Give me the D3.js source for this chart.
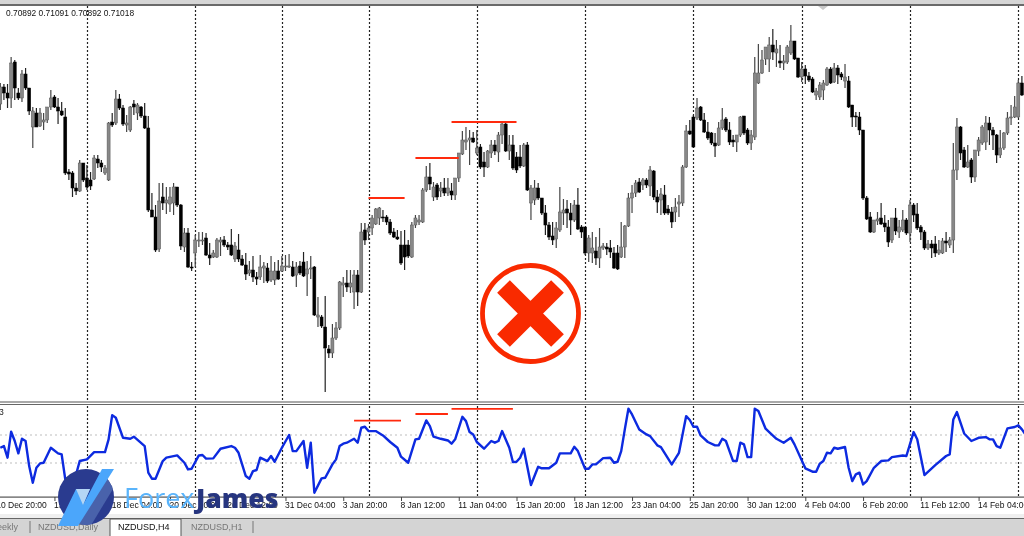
<!DOCTYPE html>
<html><head><meta charset="utf-8">
<style>html,body{margin:0;padding:0;background:#fff;overflow:hidden}svg{display:block}</style>
<script src="https://d3js.org/d3.v7.min.js"></script></head>
<body><div id="chart"></div>
<script>
// Candles, in pips above a base price, oldest bar first.
const opens=[296,313,307,302,338,307,302,326,312,273,
287,274,278,280,293,303,293,289,283,228,
227,212,209,237,222,220,221,241,237,227,
220,278,277,301,292,275,270,296,287,293,
284,272,190,183,151,203,197,196,197,213,
195,153,167,133,147,159,159,162,145,143,
143,158,160,155,155,141,150,141,135,127,
130,123,123,132,132,120,120,129,129,133,
133,133,125,134,138,126,131,133,83,83,
73,51,47,62,72,115,117,113,108,125,
108,170,168,172,176,182,183,183,178,168,
163,155,155,155,143,175,178,178,210,223,
203,215,209,212,207,209,205,222,246,258,
260,262,247,253,238,233,247,255,248,265,
276,249,255,243,243,234,255,197,200,212,
202,187,175,164,161,170,187,191,187,180,
195,173,173,147,147,149,142,152,153,152,
147,147,143,153,174,202,207,218,215,220,
214,229,203,200,205,191,188,188,196,197,
233,269,283,282,293,280,268,267,257,255,
272,281,270,260,258,265,284,270,257,263,
317,327,341,341,355,347,339,337,338,347,
359,342,323,331,324,321,305,303,310,315,
331,318,332,326,319,319,295,284,283,270,
202,183,168,179,182,177,173,160,182,168,
170,180,167,195,186,173,168,152,156,156,
147,147,159,155,160,230,273,250,233,240,
223,249,257,258,277,270,265,245,252,267,
282,283,283,317];
const closes=[313,307,302,337,312,302,326,312,289,289,
273,287,280,293,302,293,289,285,227,226,
212,209,237,220,213,214,242,237,233,232,
277,275,301,292,276,277,293,293,295,284,
272,190,183,150,199,197,200,203,213,195,
154,167,133,132,160,160,160,145,142,147,
160,160,155,153,145,154,141,135,126,130,
123,121,133,134,119,129,129,121,134,134,
134,124,133,127,124,131,132,85,85,74,
52,47,62,72,118,117,113,117,125,108,
168,160,172,182,191,192,182,178,167,163,
161,137,143,144,175,182,180,210,223,216,
213,203,212,207,212,205,222,247,260,260,
262,258,252,233,233,249,255,249,265,276,
249,255,232,230,234,255,210,212,212,202,
187,175,163,160,172,188,190,187,180,195,
171,168,147,162,152,142,153,154,151,148,
132,131,153,174,202,207,217,208,220,215,
230,203,198,206,187,187,178,193,198,233,
269,266,253,292,280,268,262,257,254,272,
280,270,258,258,265,283,267,257,265,327,
327,340,353,355,348,351,337,339,353,359,
341,323,331,324,320,308,309,315,317,331,
317,332,325,323,323,293,283,283,270,202,
181,168,180,181,176,173,158,182,169,173,
180,167,195,185,172,168,152,156,152,147,
150,159,157,160,230,273,247,233,238,223,
250,260,273,277,270,265,245,252,267,282,
283,293,317,305];
const highs=[317,316,316,343,340,312,330,332,312,293,
292,292,287,293,310,305,302,298,292,231,
229,217,240,237,235,228,245,245,240,235,
278,287,310,306,295,285,294,300,297,294,
297,284,207,195,217,217,213,213,217,213,
196,172,172,138,165,168,168,167,157,150,
162,163,164,158,171,158,166,145,147,139,
144,128,145,138,137,144,138,140,144,145,
146,139,138,139,148,139,144,134,103,85,
104,55,76,78,119,123,130,130,130,130,
177,177,176,185,192,193,190,185,181,172,
170,169,170,160,178,185,185,212,234,237,
218,217,218,222,222,217,222,247,269,273,
270,268,270,256,248,250,260,260,268,277,
277,265,265,248,255,257,258,215,220,217,
202,195,178,178,178,213,201,200,197,200,
212,175,173,165,168,163,172,157,157,160,
153,155,178,175,207,215,220,222,222,222,
234,230,210,212,215,195,193,202,205,235,
275,280,285,302,294,287,278,268,267,278,
292,283,278,265,265,284,284,272,270,343,
356,350,353,363,371,360,355,345,355,375,
359,342,338,335,328,323,312,318,320,333,
333,337,335,328,336,324,295,288,288,270,
204,188,180,188,197,185,180,182,192,180,
190,182,200,197,197,175,170,160,160,164,
160,162,168,163,257,282,274,253,255,242,
250,263,275,284,283,273,266,270,268,288,
295,304,320,324];
const lows=[290,300,292,292,300,300,298,310,285,252,
273,273,270,277,290,292,276,284,225,220,
203,205,208,218,210,210,220,232,228,225,
219,273,275,290,274,268,268,285,280,282,
271,188,183,148,148,190,186,188,185,193,
150,148,132,129,133,153,155,144,135,142,
142,144,153,150,144,138,138,134,120,124,
118,115,120,117,117,118,115,120,128,129,
132,123,113,125,123,104,121,84,73,72,
8,42,42,60,70,103,108,107,91,94,
107,155,160,165,175,175,178,175,165,162,
160,135,130,142,142,172,175,177,208,210,
199,200,203,204,204,200,200,218,245,250,
235,257,245,231,223,232,242,245,238,256,
248,240,230,227,232,233,209,180,195,200,
185,165,160,155,152,168,175,172,165,178,
170,162,145,138,137,135,132,150,145,142,
131,130,142,142,173,187,203,207,210,212,
204,200,187,185,185,185,172,178,183,194,
232,265,252,280,279,267,260,255,243,254,
270,268,255,253,248,263,265,255,250,260,
316,326,335,328,340,333,332,330,336,345,
340,322,318,316,318,307,300,300,300,314,
316,317,316,320,312,292,273,273,265,200,
180,167,167,175,175,168,153,157,165,162,
168,165,158,178,170,160,150,150,142,143,
145,146,148,152,147,220,240,232,232,217,
218,244,255,250,255,250,237,242,250,265,
275,282,282,304];

// Oscillator turning points: bar index and value.
const oscBars=[0,1,2,3,4,5,6,7,8,9,10,11,12,14,16,17,18,21,22,24,26,29,30,31,32,34,36,37,40,41,42,43,45,46,49,51,52,53,55,56,57,59,61,64,65,66,68,69,70,71,72,74,75,76,78,80,81,82,84,85,86,87,89,90,92,93,94,
95,96,98,99,100,101,102,104,106,108,110,111,113,115,116,118,119,120,122,124,125,126,128,129,130,131,132,134,136,137,138,139,141,142,143,144,145,147,149,150,152,154,155,158,159,160,162,163,164,165,167,169,170,171,172,173,174,175,177,179,180,182,183,186,188,
190,191,192,193,194,196,198,199,200,201,203,204,205,206,207,208,209,210,212,213,215,217,219,220,223,225,226,227,228,229,230,231,232,234,235,236,237,238,239,240,242,244,246,247,250,251,253,254,256,259,262,263,264,265,267,269,271,273,274,275,276,277,279,281,282,283,284];
const oscValues=[9,21,-62,123,57,-31,73,57,-122,-241,-134,-103,-98,9,-31,-39,-217,-181,-86,-74,-22,-22,69,242,223,80,73,88,21,-169,-212,-212,-86,-62,-46,-98,-146,-141,-46,-43,-69,-67,2,21,9,-27,-193,-212,-158,-150,-62,-86,-50,-91,9,100,-15,-15,57,-134,45,-312,-210,-205,-110,-74,21,
38,45,73,45,152,159,128,128,97,50,9,-55,-98,69,73,204,164,88,73,61,38,69,230,199,121,104,50,2,57,45,57,128,9,-93,-91,-62,2,-257,-127,-138,-138,-98,-31,-31,16,-15,-141,-141,-110,-110,-65,-62,-98,-91,-15,140,288,247,140,104,92,26,14,-110,-27,
235,207,159,159,97,50,26,26,73,57,-86,-86,45,33,-58,-58,288,271,145,121,73,45,80,33,-138,-162,-162,-105,-86,-27,-31,9,2,14,-134,-229,-181,-169,-253,-229,-134,-86,-81,-58,-46,-50,121,69,-186,-115,-50,-39,211,264,111,57,80,85,69,69,21,9,147,157,169,140,104];
const oscLevels=[100,-100];

// Period separators and time axis.
const separatorBars=[24,54,78,102,132,162,192,222,252,282];
const tickBars=[-1,15,31,47,63,79,95,111,127,143,159,175,191,207,223,239,255,271];
const tickLabels=["10 Dec 20:00","15 Dec 12:00","18 Dec 04:00","20 Dec 20:00","26 Dec 12:00","31 Dec 04:00","3 Jan 20:00","8 Jan 12:00","11 Jan 04:00","15 Jan 20:00","18 Jan 12:00","23 Jan 04:00","25 Jan 20:00","30 Jan 12:00","4 Feb 04:00","6 Feb 20:00","11 Feb 12:00","14 Feb 04:00"];

// Hand-drawn red highs: first bar, last bar, level.
const priceMarkBars=[[102,112],[115,127],[125,143]];
const priceMarkLevels=[202,242,278];
const oscMarkBars=[[98,111],[115,124],[125,142]];
const oscMarkLevels=[203,250,286];

const tabLabels=["eekly","NZDUSD,Daily","NZDUSD,H4","NZDUSD,H1"];
const headerText="0.70892 0.71091 0.70892 0.71018";

const W=1024,H=536;
const svg=d3.select("#chart").append("svg").attr("width",W).attr("height",H).attr("viewBox",`0 0 ${W} ${H}`);
const defs=svg.append("defs");
defs.append("filter").attr("id","soft").attr("x",0).attr("y",0).attr("width",1).attr("height",1)
  .append("feGaussianBlur").attr("stdDeviation",0.55);
defs.append("clipPath").attr("id","disc").append("circle").attr("cx",86).attr("cy",497).attr("r",28);

const x=d3.scaleLinear().domain([0,283]).range([0.3,1021.9]);
const y=d3.scaleLinear().domain([-2,394]).range([402,6]);
const yo=d3.scaleLinear().domain([-100,100]).range([463,435]);
const FONT="'Liberation Sans',Arial,sans-serif";

const root=svg.append("g").attr("filter","url(#soft)");
root.append("rect").attr("width",W).attr("height",H).attr("fill","#fff");

// frame top
root.append("rect").attr("width",W).attr("height",4).attr("fill","#d6d6d6");
root.append("rect").attr("y",4).attr("width",W).attr("height",2).attr("fill","#6a6a6a");
root.append("path").attr("d","M818 6h10l-5 4z").attr("fill","#c8c8c8");

// separators
root.append("g").selectAll("line").data(separatorBars).join("line")
  .attr("x1",d=>Math.round(x(d))+.5).attr("x2",d=>Math.round(x(d))+.5).attr("y1",6).attr("y2",497)
  .attr("stroke","#222").attr("stroke-width",1.2).attr("stroke-dasharray","2 2");

// panel border
root.append("rect").attr("y",401).attr("width",W).attr("height",4).attr("fill","#fff");
root.append("rect").attr("y",401.5).attr("width",W).attr("height",1).attr("fill","#555");
root.append("rect").attr("y",404).attr("width",W).attr("height",1).attr("fill","#666");

root.append("text").attr("x",6).attr("y",16).attr("font-family",FONT).attr("font-size",8.4).attr("fill","#111").text(headerText);
root.append("text").attr("x",-1).attr("y",415).attr("font-family",FONT).attr("font-size",8.6).attr("fill","#222").text("3");

// candles
const idx=d3.range(opens.length);
const cg=root.append("g");
cg.selectAll("line").data(idx).join("line")
  .attr("x1",i=>x(i)).attr("x2",i=>x(i)).attr("y1",i=>y(highs[i])).attr("y2",i=>y(lows[i]))
  .attr("stroke",i=>closes[i]>=opens[i]?"#444":"#222").attr("stroke-width",1.2);
cg.selectAll("rect").data(idx).join("rect")
  .attr("x",i=>x(i)-1.5).attr("width",3)
  .attr("y",i=>y(Math.max(opens[i],closes[i])))
  .attr("height",i=>Math.max(1,Math.abs(y(opens[i])-y(closes[i]))))
  .attr("fill",i=>closes[i]>=opens[i]?"#888":"#000")
  .attr("stroke",i=>closes[i]>=opens[i]?"#555":"#000").attr("stroke-width",.5);

// price marks
root.append("g").selectAll("line").data(priceMarkBars).join("line")
  .attr("x1",d=>x(d[0])).attr("x2",d=>x(d[1]))
  .attr("y1",(d,i)=>y(priceMarkLevels[i])).attr("y2",(d,i)=>y(priceMarkLevels[i]))
  .attr("stroke","#ff2a10").attr("stroke-width",1.8);

// oscillator
root.append("g").selectAll("line").data(oscLevels).join("line")
  .attr("x1",0).attr("x2",W).attr("y1",d=>yo(d)).attr("y2",d=>yo(d))
  .attr("stroke","#bdbdbd").attr("stroke-dasharray","2 3");
root.append("path").datum(oscBars.map((b,i)=>[b,oscValues[i]]))
  .attr("fill","none").attr("stroke","#0a2ae0").attr("stroke-width",2.4).attr("stroke-linejoin","round")
  .attr("d",d3.line().x(d=>x(d[0])).y(d=>yo(d[1])));
root.append("g").selectAll("line").data(oscMarkBars).join("line")
  .attr("x1",d=>x(d[0])).attr("x2",d=>x(d[1]))
  .attr("y1",(d,i)=>yo(oscMarkLevels[i])).attr("y2",(d,i)=>yo(oscMarkLevels[i]))
  .attr("stroke","#ff2a10").attr("stroke-width",1.8);

// bottom axis
root.append("rect").attr("y",497).attr("width",W).attr("height",22).attr("fill","#fff");
root.append("rect").attr("y",496.5).attr("width",W).attr("height",1.2).attr("fill","#555");
const ax=d3.axisBottom(x).tickValues(tickBars).tickSize(4).tickSizeOuter(0).tickFormat((d,i)=>tickLabels[i]);
const axg=root.append("g").attr("transform","translate(0,497)").call(ax);
axg.select(".domain").remove();
axg.selectAll("line").attr("stroke","#444");
axg.selectAll("text").attr("font-family",FONT).attr("font-size",8.5).attr("fill","#111")
  .attr("text-anchor","start").attr("dx",-1).attr("y",4.5).attr("dy",".71em");

// tabs
root.append("rect").attr("y",514).attr("width",W).attr("height",4).attr("fill","#efefef");
root.append("rect").attr("y",518).attr("width",W).attr("height",18).attr("fill","#d4d4d4");
root.append("rect").attr("y",518).attr("width",W).attr("height",1).attr("fill","#666");
root.append("path").attr("d","M110 536V519H181V536").attr("fill","#fff").attr("stroke","#555");
[30,253].forEach(px=>root.append("line").attr("x1",px).attr("x2",px).attr("y1",521).attr("y2",533).attr("stroke","#777"));
const tabX=[-3,38,118,191];
root.append("g").selectAll("text").data(tabLabels).join("text")
  .attr("x",(d,i)=>tabX[i]).attr("y",530).attr("font-family",FONT).attr("font-size",9)
  .attr("fill",(d,i)=>i===2?"#111":"#777").text(d=>d);

// cross badge
const badge=root.append("g");
badge.append("circle").attr("cx",530.5).attr("cy",313.5).attr("r",48).attr("fill","#fff").attr("stroke","#f92a00").attr("stroke-width",4.8);
badge.append("path").attr("d","M503.5 286.5L557.5 340.5M557.5 286.5L503.5 340.5").attr("stroke","#f92a00").attr("stroke-width",18);

// logo
const logo=root.append("g");
logo.append("circle").attr("cx",86).attr("cy",497).attr("r",28).attr("fill","#2b3a8f");
logo.append("path").attr("clip-path","url(#disc)").attr("d","M108 469L125 469L90 527L68 527Z").attr("fill","#4a62ab");
logo.append("path").attr("d","M102 469H114L78 526H58L76 489H90L83 505Z").attr("fill","#4ba6fb");
logo.append("path").attr("d","M76 489H90L83 505Z").attr("fill","#b4d6f5");
logo.append("text").attr("x",124).attr("y",508).attr("font-family","'Open Sans',sans-serif").attr("font-size",27).attr("fill","#5ab4fb").text("Forex");
logo.append("text").attr("x",196).attr("y",508).attr("font-family","'Open Sans',sans-serif").attr("font-weight",800).attr("font-size",26.5).attr("fill","#27347f").text("James");
</script></body></html>
